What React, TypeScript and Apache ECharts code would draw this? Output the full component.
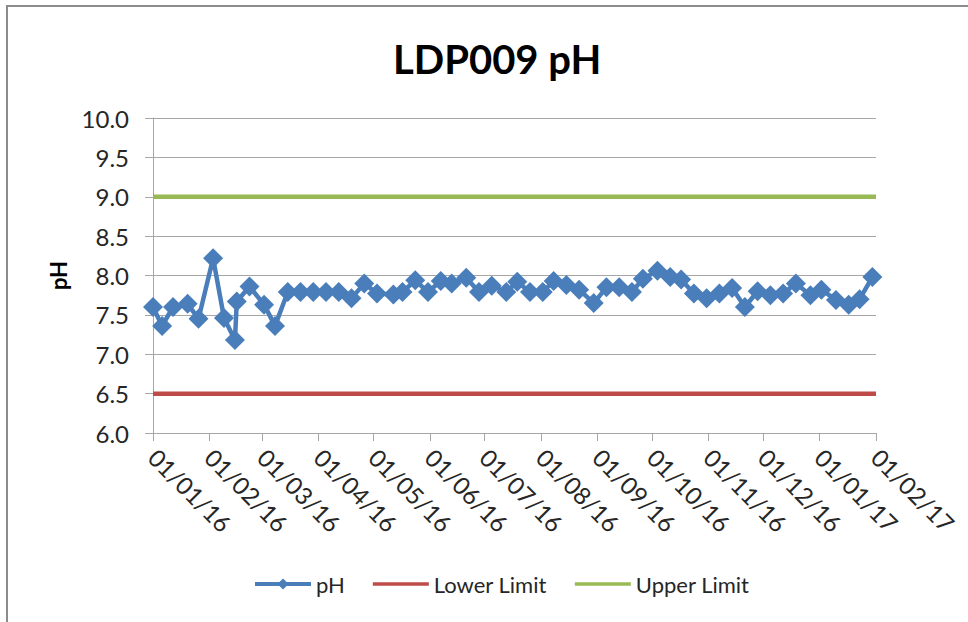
import React, { useEffect, useRef } from "react";
import * as echarts from "echarts";

const phDates: string[] = [
  "2016-01-01", "2016-01-06", "2016-01-12", "2016-01-20", "2016-01-26",
  "2016-02-03", "2016-02-09", "2016-02-15", "2016-02-16", "2016-02-23",
  "2016-03-02", "2016-03-08", "2016-03-15", "2016-03-22", "2016-03-29",
  "2016-04-05", "2016-04-12", "2016-04-19", "2016-04-26", "2016-05-03",
  "2016-05-12", "2016-05-17", "2016-05-24", "2016-05-31", "2016-06-07",
  "2016-06-13", "2016-06-21", "2016-06-28", "2016-07-05", "2016-07-13",
  "2016-07-19", "2016-07-26", "2016-08-02", "2016-08-08", "2016-08-15",
  "2016-08-22", "2016-08-30", "2016-09-06", "2016-09-13", "2016-09-20",
  "2016-09-26", "2016-10-04", "2016-10-11", "2016-10-17", "2016-10-24",
  "2016-10-31", "2016-11-07", "2016-11-14", "2016-11-21", "2016-11-28",
  "2016-12-05", "2016-12-12", "2016-12-19", "2016-12-27", "2017-01-02",
  "2017-01-10", "2017-01-17", "2017-01-23", "2017-01-30",
];

const phValues: number[] = [
  7.6, 7.36, 7.6, 7.64, 7.45,
  8.22, 7.46, 7.18, 7.67, 7.86,
  7.63, 7.36, 7.79, 7.79, 7.79,
  7.79, 7.79, 7.71, 7.9, 7.77,
  7.76, 7.79, 7.94, 7.79, 7.93,
  7.9, 7.97, 7.79, 7.87, 7.79,
  7.92, 7.79, 7.79, 7.93, 7.88,
  7.82, 7.65, 7.85, 7.85, 7.79,
  7.96, 8.06, 7.98, 7.95, 7.77,
  7.71, 7.77, 7.84, 7.6, 7.8,
  7.75, 7.77, 7.9, 7.75, 7.82,
  7.69, 7.63, 7.7, 7.98,
];

const axisStart = "2016-01-01";
const axisEnd = "2017-02-01";
const lowerLimit = 6.5;
const upperLimit = 9.0;
const yTicks = { min: 6, max: 10, step: 0.5 };

const titleText = "LDP009 pH";
const seriesNames = ["pH", "Lower Limit", "Upper Limit"];

const FONT = "Lato, 'Open Sans', sans-serif";
const LINE_ICON = "path://M0,0 L0.01,0 L0,0.01 Z M0,5.2 L56,5.2 L56,8.8 L0,8.8 Z M0,14 L0.01,14 L0,13.99 Z";

function pad(n: number) {
  return n < 10 ? "0" + n : "" + n;
}

export default function App() {
  const ref = useRef<HTMLDivElement>(null);

  useEffect(() => {
    if (!ref.current) return;
    const chart = echarts.init(ref.current, undefined, { renderer: "svg" });
    const phData = phDates.map((d, i) => [d, phValues[i]]);
    chart.setOption({
      animation: false,
      backgroundColor: "#ffffff",
      title: {
        text: titleText,
        left: 388,
        top: 34,
        textStyle: {
          fontFamily: FONT,
          fontSize: 40,
          fontWeight: "bold",
          color: "#000000",
        },
      },
      graphic: [
        {
          type: "rect",
          shape: { x: 7, y: 6, width: 1000, height: 700 },
          style: { fill: "none", stroke: "#8c8c8c", lineWidth: 2 },
          silent: true,
        },
      ],
      legend: {
        bottom: 22,
        left: 248,
        itemWidth: 56,
        itemHeight: 14,
        itemGap: 28,
        lineStyle: { width: 4 },
        textStyle: { fontFamily: FONT, fontSize: 22, color: "#262626" },
        data: [
          { name: seriesNames[0] },
          { name: seriesNames[1], icon: LINE_ICON },
          { name: seriesNames[2], icon: LINE_ICON },
        ],
      },
      grid: { left: 153, right: 92, top: 118, bottom: 189, containLabel: false },
      xAxis: {
        type: "time",
        min: axisStart,
        max: axisEnd,
        splitNumber: 13,
        minInterval: 28 * 86400000,
        axisLine: { show: true, lineStyle: { color: "#a6a6a6", width: 1 } },
        axisTick: { show: true, length: 8, lineStyle: { color: "#a6a6a6" } },
        splitLine: { show: false },
        axisLabel: {
          rotate: -45,
          margin: 20,
          fontFamily: FONT,
          fontSize: 24,
          color: "#262626",
          showMinLabel: true,
          showMaxLabel: true,
          hideOverlap: false,
          formatter: (v: number) => {
            const d = new Date(v);
            return pad(d.getDate()) + "/" + pad(d.getMonth() + 1) + "/" + pad(d.getFullYear() % 100);
          },
        },
      },
      yAxis: {
        type: "value",
        min: yTicks.min,
        max: yTicks.max,
        interval: yTicks.step,
        name: "pH",
        nameLocation: "middle",
        nameGap: 84,
        nameRotate: 90,
        nameTextStyle: { fontFamily: FONT, fontSize: 22, fontWeight: "bold", color: "#000" },
        axisLine: { show: true, lineStyle: { color: "#a6a6a6", width: 1 } },
        axisTick: { show: true, length: 8, lineStyle: { color: "#a6a6a6" } },
        splitLine: { show: true, lineStyle: { color: "#a6a6a6", width: 1 } },
        axisLabel: {
          margin: 24,
          fontFamily: FONT,
          fontSize: 24,
          color: "#262626",
          formatter: (v: number) => v.toFixed(1),
        },
      },
      series: [
        {
          name: seriesNames[0],
          type: "line",
          data: phData,
          symbol: "diamond",
          symbolSize: 20,
          showAllSymbol: true,
          color: "#4a7ebb",
          lineStyle: { width: 4.5, color: "#4a7ebb" },
          itemStyle: { color: "#4a7ebb" },
          z: 3,
        },
        {
          name: seriesNames[1],
          type: "line",
          data: [[axisStart, lowerLimit], [axisEnd, lowerLimit]],
          symbol: "none",
          color: "#be4b48",
          lineStyle: { width: 4.5, color: "#be4b48" },
          z: 2,
        },
        {
          name: seriesNames[2],
          type: "line",
          data: [[axisStart, upperLimit], [axisEnd, upperLimit]],
          symbol: "none",
          color: "#98b954",
          lineStyle: { width: 4.5, color: "#98b954" },
          z: 2,
        },
      ],
    });
    return () => chart.dispose();
  }, []);

  return (
    <div
      ref={ref}
      style={{ position: "fixed", left: 0, top: 0, width: 968, height: 622 }}
    />
  );
}
